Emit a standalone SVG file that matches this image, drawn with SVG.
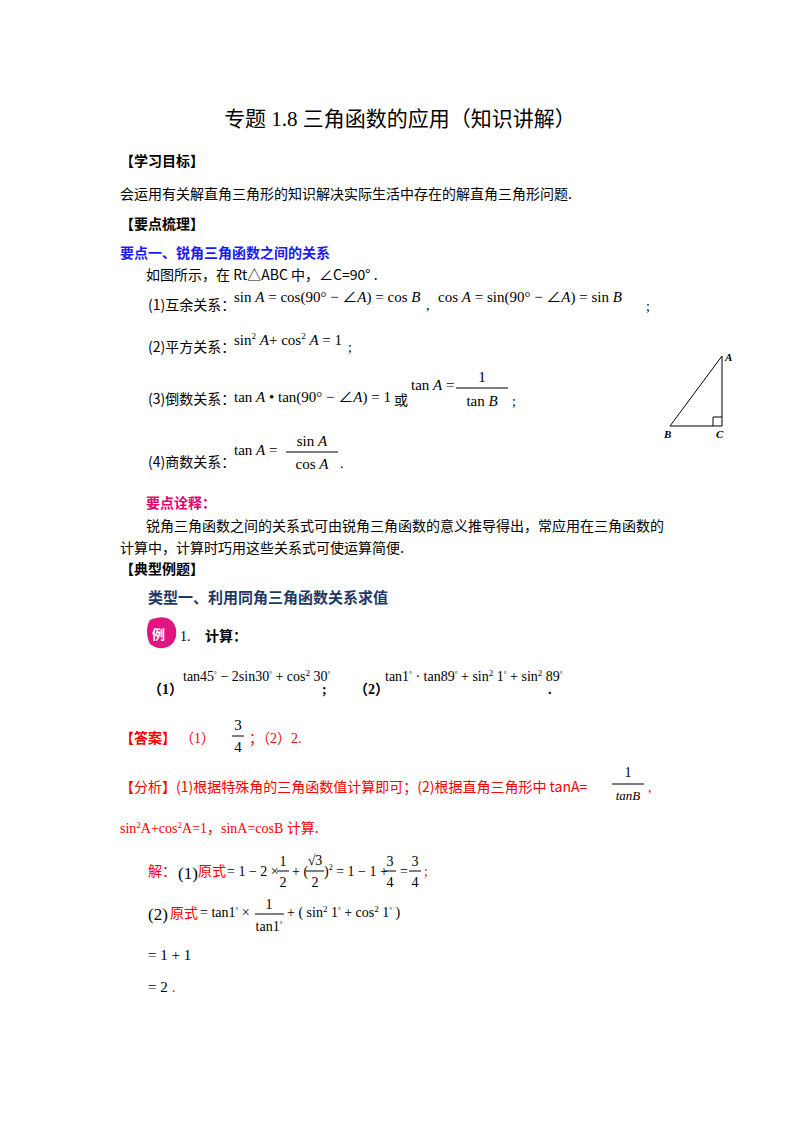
<svg xmlns="http://www.w3.org/2000/svg" width="800" height="1132" viewBox="0 0 800 1132">
<style>
text{font-family:"Liberation Serif","Noto Sans CJK SC",serif;font-size:14px;fill:#000}
.m{font-size:15px}
.s{font-family:"Noto Sans CJK SC","Liberation Sans",sans-serif}
.b{font-weight:bold}
.blue{fill:#1a1aff}
.red{fill:#ff0000}
.navy{fill:#1f3864}
.i{font-style:italic}
.ln{stroke:#000;stroke-width:1;fill:none}
</style>
<rect width="800" height="1132" fill="#fff"/>
<g id="title"><text x="400" y="126" text-anchor="middle" style="font-size:21px">专题 1.8  三角函数的应用（知识讲解）</text></g>
<g id="head1"><text x="120" y="166" class="s b">【学习目标】</text>
<text x="120" y="199" class="s">会运用有关解直角三角形的知识解决实际生活中存在的解直角三角形问题.</text>
<text x="120" y="229" class="s b">【要点梳理】</text></g>
<g id="point1">
<text x="120" y="258" class="s b blue">要点一、锐角三角函数之间的关系</text>
<text x="146" y="280" class="s">如图所示，在 Rt△ABC 中，∠C=90° .</text>
<text x="148" y="310" class="s">(1)互余关系：</text>
<text x="234" y="302" class="m">sin <tspan class="i">A</tspan> = cos(90° − ∠<tspan class="i">A</tspan>) = cos <tspan class="i">B</tspan></text>
<text x="426" y="310">,</text>
<text x="438" y="302" class="m">cos <tspan class="i">A</tspan> = sin(90° − ∠<tspan class="i">A</tspan>) = sin <tspan class="i">B</tspan></text>
<text x="646" y="311">;</text>
<text x="148" y="352" class="s">(2)平方关系：</text>
<text x="234" y="345" class="m">sin<tspan dy="-6" font-size="9">2</tspan><tspan dy="6"> </tspan><tspan class="i">A</tspan>+ cos<tspan dy="-6" font-size="9">2</tspan><tspan dy="6"> </tspan><tspan class="i">A</tspan> = 1</text>
<text x="348" y="352">;</text>
<text x="148" y="404" class="s">(3)倒数关系：</text>
<text x="234" y="402" class="m">tan <tspan class="i">A</tspan> • tan(90° − ∠<tspan class="i">A</tspan>) = 1</text>
<text x="394" y="405" class="s">或</text>
<text x="411" y="390" class="m">tan <tspan class="i">A</tspan> =</text>
<text x="482" y="382" text-anchor="middle" class="m">1</text>
<line x1="456" y1="388" x2="508" y2="388" class="ln"/>
<text x="482" y="406" text-anchor="middle" class="m">tan <tspan class="i">B</tspan></text>
<text x="512" y="406">;</text>
<text x="148" y="467" class="s">(4)商数关系：</text>
<text x="234" y="455" class="m">tan <tspan class="i">A</tspan> =</text>
<text x="312" y="446" text-anchor="middle" class="m">sin <tspan class="i">A</tspan></text>
<line x1="286" y1="452" x2="338" y2="452" class="ln"/>
<text x="312" y="469" text-anchor="middle" class="m">cos <tspan class="i">A</tspan></text>
<text x="340" y="468">.</text>
</g>
<g id="triangle">
<polygon points="670,426 722,426 722,356" class="ln"/>
<polyline points="713,426 713,417 722,417" class="ln"/>
<text x="725" y="361" class="b i" style="font-size:11px">A</text>
<text x="664" y="438" class="b i" style="font-size:11px">B</text>
<text x="716" y="438" class="b i" style="font-size:11px">C</text>
</g>
<g id="note">
<text x="146" y="508" class="s b" style="fill:#e8006e">要点诠释：</text>
<text x="146" y="531" class="s">锐角三角函数之间的关系式可由锐角三角函数的意义推导得出，常应用在三角函数的</text>
<text x="120" y="553" class="s">计算中，计算时巧用这些关系式可使运算简便.</text>
<text x="120" y="574" class="s b">【典型例题】</text>
<text x="148" y="603" class="s b navy" style="font-size:15px">类型一、利用同角三角函数关系求值</text>
</g>
<g id="example">
<path d="M150,620 C168,612 178,622 176,636 C174,648 160,652 150,644 C146,636 146,626 150,620 Z" fill="#e0157f"/>
<text x="152" y="639" class="s b" style="fill:#fff;font-size:13px">例</text>
<text x="180" y="641">1.</text>
<text x="205" y="641" class="s b">计算：</text>
<text x="148" y="694" class="b">（1）</text>
<text x="183" y="681">tan45<tspan dy="-5" font-size="7">°</tspan><tspan dy="5"> − 2sin30</tspan><tspan dy="-5" font-size="7">°</tspan><tspan dy="5"> + cos</tspan><tspan dy="-5" font-size="9">2</tspan><tspan dy="5"> 30</tspan><tspan dy="-5" font-size="7">°</tspan></text>
<text x="322" y="694" class="b">;</text>
<text x="354" y="694" class="b">（2）</text>
<text x="385" y="681">tan1<tspan dy="-5" font-size="7">°</tspan><tspan dy="5"> · tan89</tspan><tspan dy="-5" font-size="7">°</tspan><tspan dy="5"> + sin</tspan><tspan dy="-5" font-size="9">2</tspan><tspan dy="5"> 1</tspan><tspan dy="-5" font-size="7">°</tspan><tspan dy="5"> + sin</tspan><tspan dy="-5" font-size="9">2</tspan><tspan dy="5"> 89</tspan><tspan dy="-5" font-size="7">°</tspan></text>
<text x="548" y="694" class="b">.</text>
</g>
<g id="answer">
<text x="120" y="743" class="s b red">【答案】</text>
<text x="180" y="743" class="red">（1）</text>
<text x="238" y="730" text-anchor="middle" class="m">3</text>
<line x1="232" y1="736" x2="244" y2="736" class="ln"/>
<text x="238" y="752" text-anchor="middle" class="m">4</text>
<text x="249" y="743" class="red">；（2）2.</text>
</g>
<g id="analysis">
<text x="120" y="792" class="s red">【分析】(1)根据特殊角的三角函数值计算即可；(2)根据直角三角形中 tanA=</text>
<text x="628" y="777" text-anchor="middle">1</text>
<line x1="612" y1="784" x2="644" y2="784" class="ln"/>
<text x="628" y="800" text-anchor="middle" class="i" style="font-size:13px">tanB</text>
<text x="648" y="792" class="red">,</text>
<text x="120" y="833" class="red">sin<tspan dy="-5" font-size="9">2</tspan><tspan dy="5">A+cos</tspan><tspan dy="-5" font-size="9">2</tspan><tspan dy="5">A=1，sinA=cosB </tspan><tspan class="s">计算.</tspan></text>
</g>
<g id="solution">
<text x="148" y="876" class="s red">解：</text>
<text x="178" y="879" style="font-size:17px">(1)</text>
<text x="198" y="876" class="s red">原式</text>
<text x="227" y="876">= 1 − 2 ×</text>
<text x="283" y="866" text-anchor="middle">1</text>
<line x1="277" y1="871" x2="289" y2="871" class="ln"/>
<text x="283" y="887" text-anchor="middle">2</text>
<text x="292" y="876">+ (</text>
<text x="315" y="865" text-anchor="middle">√3</text>
<line x1="306" y1="871" x2="324" y2="871" class="ln"/>
<text x="315" y="887" text-anchor="middle">2</text>
<text x="324" y="876">)<tspan dy="-6" font-size="8">2</tspan><tspan dy="6"> = 1 − 1 +</tspan></text>
<text x="390" y="866" text-anchor="middle">3</text>
<line x1="384" y1="871" x2="396" y2="871" class="ln"/>
<text x="390" y="887" text-anchor="middle">4</text>
<text x="400" y="876">=</text>
<text x="415" y="866" text-anchor="middle">3</text>
<line x1="409" y1="871" x2="421" y2="871" class="ln"/>
<text x="415" y="887" text-anchor="middle">4</text>
<text x="424" y="876" class="red">;</text>
<text x="148" y="920" style="font-size:17px">(2)</text>
<text x="170" y="918" class="s red">原式</text>
<text x="200" y="917">= tan1<tspan dy="-5" font-size="7">°</tspan><tspan dy="5"> ×</tspan></text>
<text x="269" y="909" text-anchor="middle">1</text>
<line x1="255" y1="914" x2="284" y2="914" class="ln"/>
<text x="269" y="931" text-anchor="middle">tan1<tspan dy="-5" font-size="7">°</tspan></text>
<text x="287" y="917">+ ( sin<tspan dy="-5" font-size="9">2</tspan><tspan dy="5"> 1</tspan><tspan dy="-5" font-size="7">°</tspan><tspan dy="5"> + cos</tspan><tspan dy="-5" font-size="9">2</tspan><tspan dy="5"> 1</tspan><tspan dy="-5" font-size="7">°</tspan><tspan dy="5"> )</tspan></text>
<text x="148" y="960" class="m">= 1 + 1</text>
<text x="148" y="992" class="m">= 2</text>
<text x="172" y="992" class="red">.</text>
</g>
</svg>
